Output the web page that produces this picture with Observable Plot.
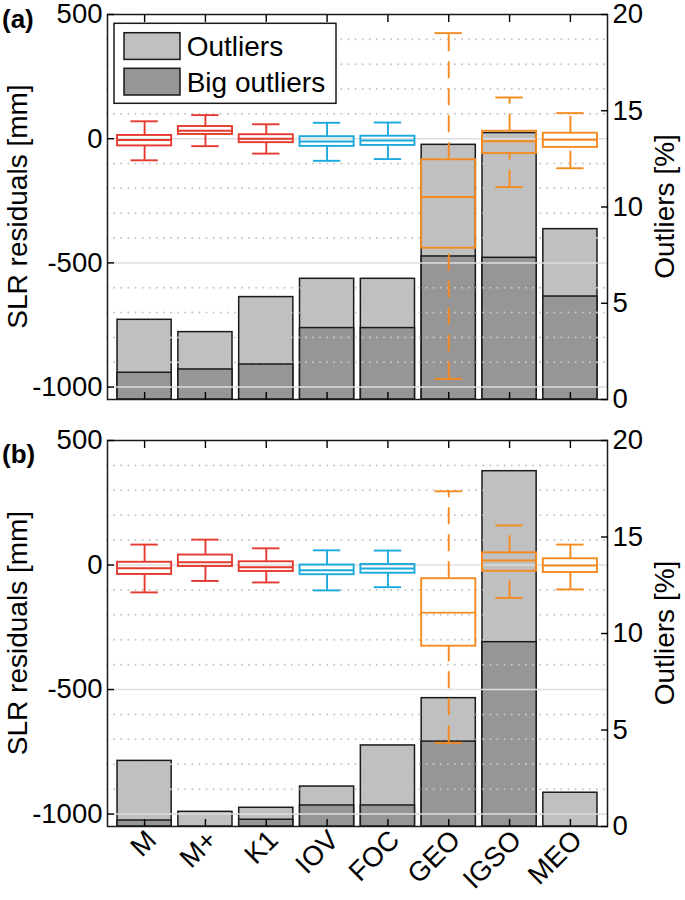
<!DOCTYPE html>
<html><head><meta charset="utf-8">
<script src="https://cdn.jsdelivr.net/npm/d3@7"></script>
<script src="https://cdn.jsdelivr.net/npm/@observablehq/plot@0.6"></script>
<style>
body{margin:0;background:#fff;}
#chart{width:685px;height:900px;position:relative;font-family:"Liberation Sans",Arial,sans-serif;}
#chart svg{display:block;}
</style></head><body><div id="chart"></div>
<script>
// ---------- data ----------
const categories = ["M","M+","K1","IOV","FOC","GEO","IGSO","MEO"];

const outliersA    = [4.14,3.50,5.32,6.27,6.27,13.23,13.84,8.85];
const bigOutliersA = [1.39,1.56,1.82,3.71,3.71,7.43,7.36,5.35];
const lowerA  = [-87,-30,-60,-89,-82,-967,-195,-119];
const q1A     = [-29,17,-16,-31,-27,-441,-60,-35];
const medianA = [-5,32,0,-11,-7,-235,-10,-4];
const q3A     = [13,49,16,8,10,-85,30,22];
const upperA  = [70,95,58,64,65,425,166,103];

const outliersB    = [3.40,0.76,0.97,2.07,4.20,6.65,18.41,1.75];
const bigOutliersB = [0.31,0,0.35,1.09,1.09,4.40,9.55,0];
const lowerB  = [-110,-64,-70,-102,-89,-714,-132,-98];
const q1B     = [-38,-6,-26,-39,-33,-326,-25,-30];
const medianB = [-13,11,-9,-21,-14,-191,18,-2];
const q3B     = [11,40,13,0,2,-55,49,25];
const upperB  = [82,102,67,59,58,296,159,82];

const yTicks = [-1000,-500,0,500];
const pctTicks = [0,5,10,15,20];
const panelLabels = ["(a)","(b)"];
const legendLabels = ["Outliers","Big outliers"];
const yLabel = "SLR residuals [mm]";
const y2Label = "Outliers [%]";

// ---------- style ----------
const RED="#E53A2F", CYAN="#1BA9DD", ORANGE="#F58A1F";
const catColor = [RED,RED,RED,CYAN,CYAN,ORANGE,ORANGE,ORANGE];
const LIGHT="#c0c0c0", DARK="#969696";
const FONT = "'Liberation Sans', Arial, sans-serif";
const FS = 27.5;
const Y0=-1050, Y1=500, P1=20;
const toMm = p => Y0 + p/P1*(Y1-Y0);
const toPct = m => (m - Y0)/(Y1-Y0)*P1;
const BW = 0.445, CAP = 0.225;
const SW = 1.9;

function panel(o){
  const bars = categories.map((c,k)=>({i:k+1, out:o.outliers[k], big:o.big[k]}));
  const boxes = categories.map((c,k)=>({i:k+1, lower:o.lower[k], q1:o.q1[k], median:o.median[k], q3:o.q3[k], upper:o.upper[k], color:catColor[k]}));
  const idx = categories.map((c,k)=>k+1);
  const minor = d3.range(-1000, 500, 100).filter(v => v % 500 !== 0);
  const major = yTicks.filter(v => v < Y1);
  const marks = [
    Plot.rect(bars, {x1:d=>d.i-BW, x2:d=>d.i+BW, y1:d=>Y0, y2:d=>toMm(d.out), fill:LIGHT, stroke:"#1a1a1a", strokeWidth:1.5}),
    Plot.rect(bars.filter(d=>d.big>0), {x1:d=>d.i-BW, x2:d=>d.i+BW, y1:d=>Y0, y2:d=>toMm(d.big), fill:DARK, stroke:"#1a1a1a", strokeWidth:1.5}),
    Plot.ruleY(minor, {stroke:"#c6c6c6", strokeWidth:2, strokeDasharray:"0.1,7", strokeLinecap:"round"}),
    Plot.ruleY(major, {stroke:"#dedede", strokeWidth:1.5}),
    Plot.ruleX(boxes, {x:"i", y1:"q3", y2:"upper", stroke:"color", strokeWidth:SW, strokeDasharray:"17,10"}),
    Plot.ruleX(boxes, {x:"i", y1:"lower", y2:"q1", stroke:"color", strokeWidth:SW, strokeDasharray:"17,10"}),
    Plot.ruleY(boxes, {x1:d=>d.i-CAP, x2:d=>d.i+CAP, y:"upper", stroke:"color", strokeWidth:SW}),
    Plot.ruleY(boxes, {x1:d=>d.i-CAP, x2:d=>d.i+CAP, y:"lower", stroke:"color", strokeWidth:SW}),
    Plot.rect(boxes, {x1:d=>d.i-BW, x2:d=>d.i+BW, y1:"q1", y2:"q3", fill:"none", stroke:"color", strokeWidth:SW}),
    Plot.ruleY(boxes, {x1:d=>d.i-BW, x2:d=>d.i+BW, y:"median", stroke:"color", strokeWidth:SW}),
    Plot.frame({stroke:"#1a1a1a", strokeWidth:1.5}),
    Plot.axisY(yTicks, {anchor:"left", tickSize:-7, tickPadding:12, tickFormat:d=>String(d), fontSize:FS, label:null, strokeWidth:1.4}),
    Plot.axisY(pctTicks.map(toMm), {anchor:"right", tickSize:-7, tickPadding:12, tickFormat:d=>String(Math.round(toPct(d))), fontSize:FS, label:null, strokeWidth:1.4}),
    Plot.axisX(idx, {anchor:"bottom", tickSize:-7, tickFormat:()=>"", label:null, strokeWidth:1.4}),
    Plot.axisX(idx, {anchor:"top", tickSize:-7, tickFormat:()=>"", label:null, strokeWidth:1.4})
  ];
  if (o.xLabels) {
    marks.push(Plot.text(idx, {x:d=>d, text:d=>categories[d-1], frameAnchor:"bottom", rotate:-45, textAnchor:"end", lineAnchor:"middle", dx:7, dy:9, fontSize:FS}));
  }
  const svg = Plot.plot({
    width:685, height:o.height,
    marginTop:o.marginTop, marginBottom:o.marginBottom, marginLeft:107, marginRight:78,
    x:{type:"linear", domain:[0.39,8.61]},
    y:{type:"linear", domain:[Y0,Y1]},
    color:{type:"identity"},
    style:{fontFamily:FONT, fontSize:FS+"px", background:"white", color:"black", overflow:"visible"},
    marks
  });
  const s = d3.select(svg);
  const top = o.marginTop, bot = o.height - o.marginBottom, mid = (top+bot)/2;
  s.append("text").attr("x",2).attr("y",o.labelY).attr("text-anchor","start").attr("font-weight","bold").attr("font-size",26).attr("font-family",FONT).text(o.panelLabel);
  s.append("text").attr("transform",`translate(27,${mid}) rotate(-90)`).attr("text-anchor","middle").attr("font-size",28).attr("font-family",FONT).text(yLabel);
  s.append("text").attr("transform",`translate(674,${mid}) rotate(-90)`).attr("text-anchor","middle").attr("font-size",28).attr("font-family",FONT).text(y2Label);
  if (o.legend) {
    const g = s.append("g");
    g.append("rect").attr("x",114).attr("y",23.3).attr("width",222).attr("height",80).attr("fill","white").attr("stroke","#1a1a1a").attr("stroke-width",1.5);
    [LIGHT,DARK].forEach((f,k)=>{
      g.append("rect").attr("x",124).attr("y",32.7+k*35.6).attr("width",56).attr("height",26.7).attr("fill",f).attr("stroke","#1a1a1a").attr("stroke-width",1.5);
      g.append("text").attr("x",186.7).attr("y",56+k*35.7).attr("text-anchor","start").attr("font-size",28).attr("font-family",FONT).text(legendLabels[k]);
    });
  }
  return svg;
}

const chart = document.getElementById("chart");
chart.appendChild(panel({outliers:outliersA, big:bigOutliersA, lower:lowerA, q1:q1A, median:medianA, q3:q3A, upper:upperA,
  height:420, marginTop:14, marginBottom:21, panelLabel:panelLabels[0], labelY:28, legend:true, xLabels:false}));
chart.appendChild(panel({outliers:outliersB, big:bigOutliersB, lower:lowerB, q1:q1B, median:medianB, q3:q3B, upper:upperB,
  height:480, marginTop:20, marginBottom:74, panelLabel:panelLabels[1], labelY:43, legend:false, xLabels:true}));
</script></body></html>
